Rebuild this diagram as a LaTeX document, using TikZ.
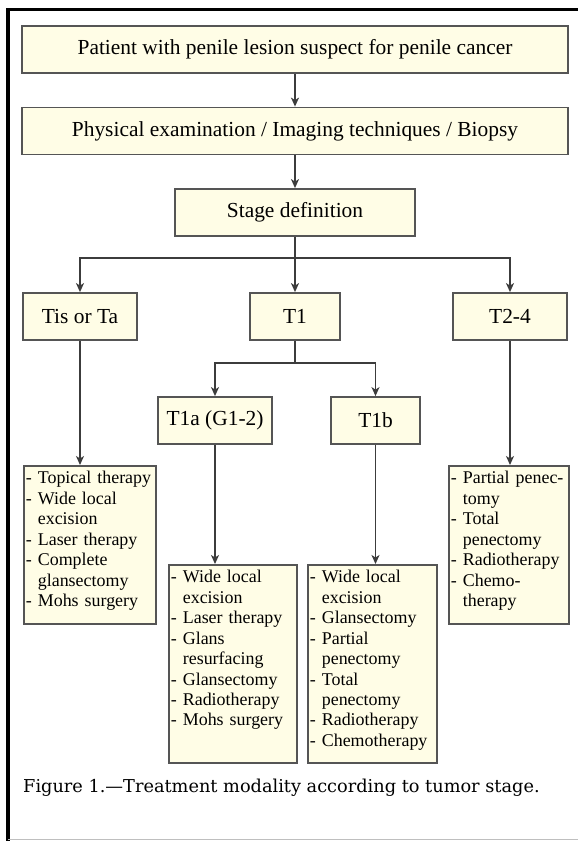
\documentclass[tikz,border=0pt]{standalone}
\usepackage{fontspec}
\setmainfont{Liberation Serif}
\newfontfamily\captionfont{DejaVu Serif}
\usetikzlibrary{arrows.meta, positioning}
\definecolor{boxfill}{HTML}{FFFDE6}
\definecolor{boxline}{HTML}{555555}
\definecolor{arrowline}{HTML}{3C3C3C}
\newcommand{\cont}{\phantom{- }}

\begin{document}
\begin{tikzpicture}
[x=1bp, y=-1bp,
block_normal/.style ={rectangle, draw=boxline, line width=1.8bp, fill=boxfill, align=center, inner sep=0pt, minimum height=47bp, font=\fontsize{21.5}{25}\selectfont},
block_list/.style ={rectangle, draw=boxline, line width=1.8bp, fill=boxfill, align=left, anchor=north west, inner xsep=2bp, inner ysep=4bp, text height=14bp, font=\fontsize{18}{20.5}\selectfont},
line_inner/.style ={draw=arrowline, line width=1.5bp, -{Stealth[length=9bp,width=8bp,inset=2.5bp]}},
line_plain/.style ={draw=arrowline, line width=1.5bp}
]
\useasboundingbox (0,0) rectangle (578,841);

%%% Rahmen %%%
\draw[line width=3.5bp] (8,841) -- (8,9.5) -- (578,9.5);
\draw[gray!50, line width=1bp] (8,839.5) -- (578,839.5);

%%% Kopf %%%
\node [block_normal, minimum width=546bp] (patient) at (295,49.5) {Patient with penile lesion suspect for penile cancer};
\node [block_normal, minimum width=546bp] (exam) at (295,131) {Physical examination / Imaging techniques / Biopsy};
\node [block_normal, minimum width=240bp] (stage) at (295,212.5) {Stage definition};

%%% Stadien %%%
\node [block_normal, minimum width=114bp] (tis) at (80,316.5) {Tis or Ta};
\node [block_normal, minimum width=90bp] (t1) at (295,316.5) {T1};
\node [block_normal, minimum width=114bp] (t24) at (510,316.5) {T2-4};
\node [block_normal, minimum width=114bp] (t1a) at (215,420.5) {T1a (G1-2)};
\node [block_normal, minimum width=89bp] (t1b) at (375.5,420.5) {T1b};

%%% Therapie %%%
\node [block_list, text width=128bp, text depth=136bp] (tistreat) at (23,465)
{- Topical therapy\\- Wide local\\\cont excision\\- Laser therapy\\- Complete\\\cont glansectomy\\- Mohs surgery};
\node [block_list, text width=124bp, text depth=176bp] (t1atreat) at (168,564)
{- Wide local\\\cont excision\\- Laser therapy\\- Glans\\\cont resurfacing\\- Glansectomy\\- Radiotherapy\\- Mohs surgery};
\node [block_list, text width=125bp, text depth=176bp] (t1btreat) at (307,564)
{- Wide local\\\cont excision\\- Glansectomy\\- Partial\\\cont penectomy\\- Total\\\cont penectomy\\- Radiotherapy\\- Chemotherapy};
\node [block_list, text width=116bp, text depth=136bp] (t24treat) at (448,465)
{- Partial penec-\\\cont tomy\\- Total\\\cont penectomy\\- Radiotherapy\\- Chemo-\\\cont therapy};

\node [anchor=west, inner sep=0pt, font=\captionfont\fontsize{17.8}{21}\selectfont] (caption) at (23,788)
{Figure 1.—Treatment modality according to tumor stage.};

%%Pfeile%%%
\coordinate (split) at (295,258);
\coordinate (splitone) at (295,363);
\draw [line_inner] (patient) -- (exam);
\draw [line_inner] (exam) -- (stage);
\draw [line_plain] (stage.south) -- (split);
\draw [line_inner] (split) -| (tis.north);
\draw [line_inner] (split) -- (t1.north);
\draw [line_inner] (split) -| (t24.north);
\draw [line_plain] (t1.south) -- (splitone);
\draw [line_inner] (splitone) -| (t1a.north);
\draw [line_inner] (splitone) -| (t1b.north);
\draw [line_inner] (tis.south) -- (tis.south |- tistreat.north);
\draw [line_inner] (t24.south) -- (t24.south |- t24treat.north);
\draw [line_inner] (t1a.south) -- (t1a.south |- t1atreat.north);
\draw [line_inner] (t1b.south) -- (t1b.south |- t1btreat.north);

\end{tikzpicture}
\end{document}
